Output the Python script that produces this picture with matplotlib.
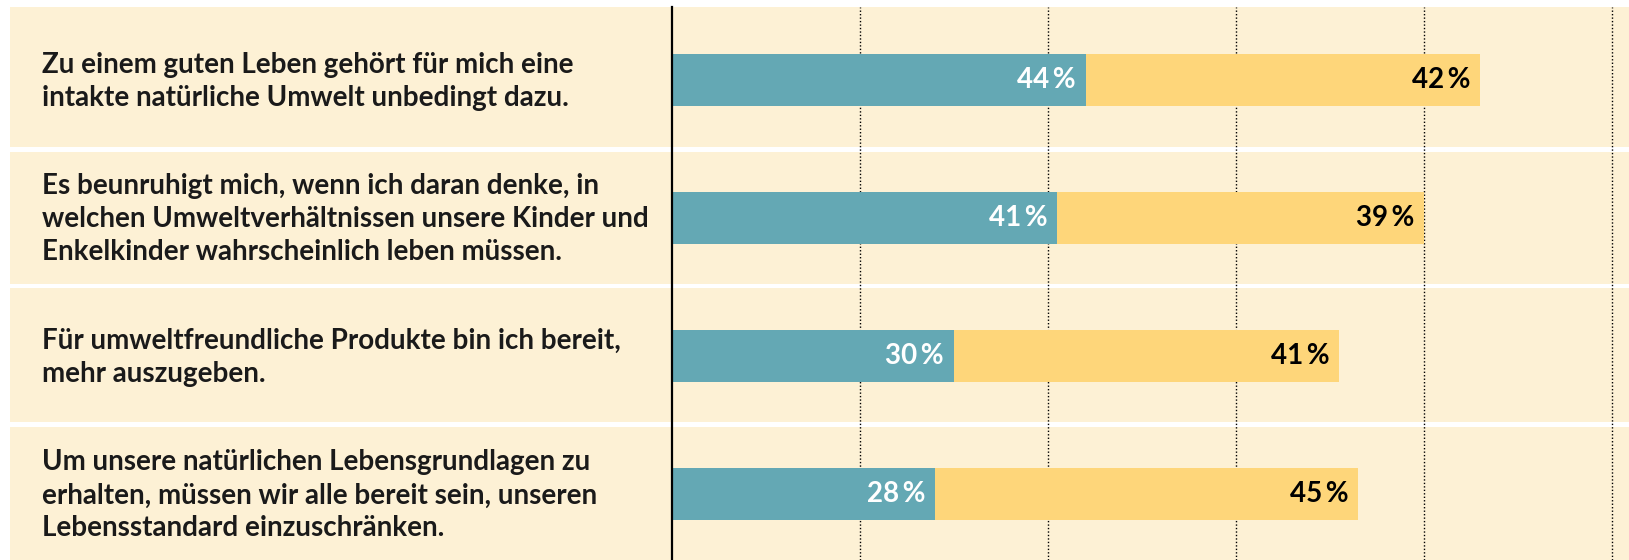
import matplotlib
matplotlib.use("Agg")
import matplotlib.pyplot as plt
import matplotlib.transforms as mtransforms

# Aussagen (Zeilenumbrüche wie im Original)
statements = [
    "Zu einem guten Leben gehört für mich eine\nintakte natürliche Umwelt unbedingt dazu.",
    "Es beunruhigt mich, wenn ich daran denke, in\nwelchen Umweltverhältnissen unsere Kinder und\nEnkelkinder wahrscheinlich leben müssen.",
    "Für umweltfreundliche Produkte bin ich bereit,\nmehr auszugeben.",
    "Um unsere natürlichen Lebensgrundlagen zu\nerhalten, müssen wir alle bereit sein, unseren\nLebensstandard einzuschränken.",
]
agree_full = [44, 41, 30, 28]     # "stimme voll und ganz zu"
agree_some = [42, 39, 41, 45]     # "stimme eher zu"
grid_ticks = [20, 40, 60, 80, 100]

TEAL = "#64a8b4"
YELLOW = "#fed67a"
BEIGE = "#fdf1d5"

W, H = 1629, 560
Y0, UNIT = 80, 138.0          # Pixel der ersten Zeilenmitte, Pixel pro Zeile
fig = plt.figure(figsize=(W / 100, H / 100), dpi=100)
fig.patch.set_facecolor("white")
ax = fig.add_axes([0, 0, 1, 1])
ax.set_facecolor("white")

def py(px):
    return (px - Y0) / UNIT

# 0 % liegt bei x=672 px, 9.4 px pro Prozentpunkt
ax.set_xlim(-672 / 9.4, (W - 672) / 9.4)
ax.set_ylim(py(H), py(0))
ax.axis("off")

ypos = list(range(len(statements)))
top_frac = 1 - 7 / H

# Hintergrundstreifen (Pixelgrenzen)
bands = [(7, 147), (152, 284), (288, 422), (427, H)]
for lo, hi in bands:
    ax.axhspan(py(lo), py(hi), xmin=10 / W, xmax=1, color=BEIGE, lw=0, zorder=0)

for t in grid_ticks:
    ax.axvline(t, ymin=0, ymax=top_frac, color="black", lw=1.0,
               linestyle=(0, (1, 1.5)), zorder=1)
ax.axvline(0, ymin=0, ymax=top_frac, color="black", lw=1.6, zorder=3)

bar_h = 52 / UNIT
ax.barh(ypos, agree_full, height=bar_h, color=TEAL, zorder=2)
ax.barh(ypos, agree_some, left=agree_full, height=bar_h, color=YELLOW, zorder=2)

fonts = ["Lato", "DejaVu Sans"]
pad = 10 / 9.4
for i in ypos:
    a, b = agree_full[i], agree_some[i]
    ax.text(a - pad, i, f"{a}\u2009%", ha="right", va="center", color="white",
            fontsize=20, fontweight="bold", family=fonts, zorder=4)
    ax.text(a + b - pad, i, f"{b}\u2009%", ha="right", va="center", color="black",
            fontsize=20, fontweight="bold", family=fonts, zorder=4)

trans = mtransforms.blended_transform_factory(fig.transFigure, ax.transData)
for i, s in zip(ypos, statements):
    ax.text(42 / W, i + 0.01, s, transform=trans, ha="left", va="center",
            fontsize=20, fontweight="bold", family=fonts, color="#1a1a1a",
            linespacing=1.33, zorder=4)

fig.savefig("out.png", dpi=100)
